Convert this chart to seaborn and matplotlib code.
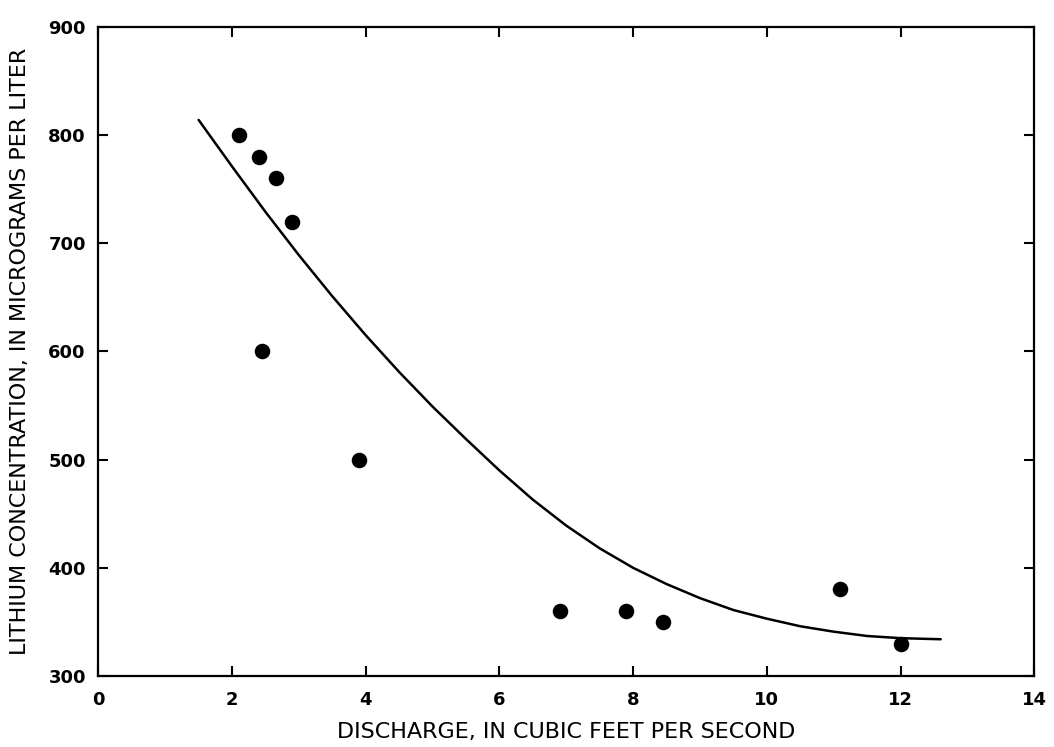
import matplotlib
matplotlib.use("Agg")
import matplotlib.pyplot as plt
import seaborn as sns
import pandas as pd

# Observed samples
discharge = [2.1, 2.4, 2.65, 2.9, 2.45, 3.9, 6.9, 7.9, 8.45, 11.1, 12.0]
lithium = [800, 780, 760, 720, 600, 500, 360, 360, 350, 380, 330]

# Fitted curve
curve_x = [1.5, 2.0, 2.5, 3.0, 3.5, 4.0, 4.5, 5.0, 5.5, 6.0, 6.5, 7.0, 7.5, 8.0,
           8.5, 9.0, 9.5, 10.0, 10.5, 11.0, 11.5, 12.0, 12.6]
curve_y = [814, 771, 729, 689, 651, 615, 581, 549, 519, 490, 463, 439, 418, 400,
           385, 372, 361, 353, 346, 341, 337, 335, 334]

xticks = [0, 2, 4, 6, 8, 10, 12, 14]
yticks = [300, 400, 500, 600, 700, 800, 900]

sns.set_theme(style="ticks")
plt.rcParams['font.family'] = ['DejaVu Sans']
plt.rcParams['text.color'] = 'black'
plt.rcParams['axes.labelcolor'] = 'black'

fig = plt.figure(figsize=(10.54, 7.47), dpi=100)
ax = fig.add_axes([0.0933, 0.095, 0.888, 0.869])

pts = pd.DataFrame({"x": discharge, "y": lithium})
fit = pd.DataFrame({"x": curve_x, "y": curve_y})

sns.lineplot(data=fit, x="x", y="y", ax=ax, color="black", linewidth=1.8,
             sort=False, estimator=None)
sns.scatterplot(data=pts, x="x", y="y", ax=ax, color="black", s=125,
                edgecolor="black", linewidth=0, zorder=3)

ax.set_xlim(0, 14)
ax.set_ylim(300, 900)
ax.set_xticks(xticks)
ax.set_yticks(yticks)
ax.set_xticklabels([str(t) for t in xticks], fontsize=13, fontweight="bold")
ax.set_yticklabels([str(t) for t in yticks], fontsize=13, fontweight="bold")

ax.tick_params(direction="in", length=7, width=1.5, top=True, right=True,
               colors="black", labelcolor="black")
ax.tick_params(axis="x", pad=11)
ax.tick_params(axis="y", pad=9)
for side in ["top", "bottom", "left", "right"]:
    ax.spines[side].set_visible(True)
    ax.spines[side].set_linewidth(1.6)
    ax.spines[side].set_color("black")

ax.set_xlabel("DISCHARGE, IN CUBIC FEET PER SECOND", fontsize=16, labelpad=9,
              color="black")
ax.set_ylabel("LITHIUM CONCENTRATION, IN MICROGRAMS PER LITER", fontsize=16,
              labelpad=13, color="black")

fig.savefig("out.png", dpi=100, facecolor="white")
